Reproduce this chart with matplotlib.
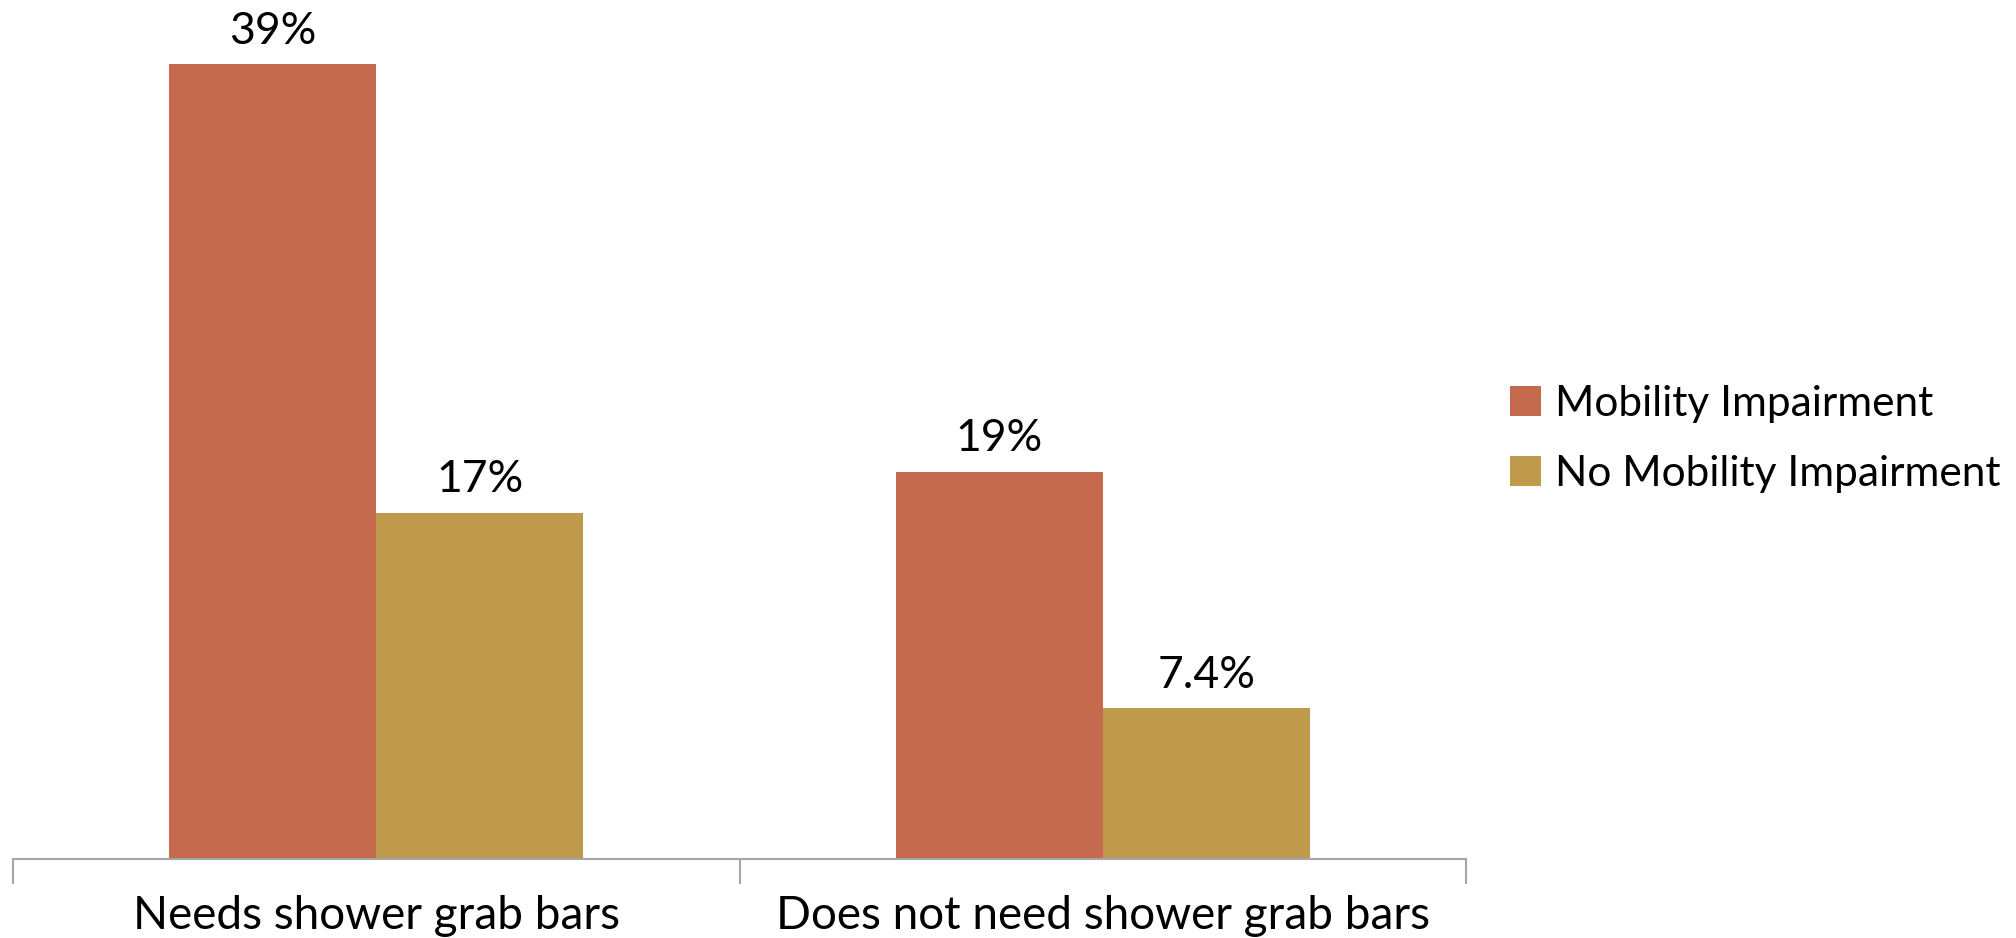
import matplotlib
matplotlib.use("Agg")
import matplotlib.pyplot as plt
import numpy as np

categories = ["Needs shower grab bars", "Does not need shower grab bars"]
series_names = ["Mobility Impairment", "No Mobility Impairment"]
mobility = [39, 19]
no_mobility = [17, 7.4]
value_labels = [["39%", "19%"], ["17%", "7.4%"]]
colors = ["#C5694F", "#BF994C"]

plt.rcParams["font.family"] = ["Lato", "DejaVu Sans"]

fig = plt.figure(figsize=(20.16, 9.38), dpi=100)
ax = fig.add_axes([13 / 2016, 79 / 938, (1466 - 13) / 2016, (859 - 44) / 938])

x = np.arange(len(categories))
w = 0.285
series = [mobility, no_mobility]
offsets = [-w / 2, w / 2]
handles = []
for s, (vals, off, col, labs) in enumerate(zip(series, offsets, colors, value_labels)):
    bars = ax.bar(x + off, vals, width=w, color=col, label=series_names[s], zorder=2)
    handles.append(bars)
    for b, lab in zip(bars, labs):
        ax.annotate(lab, (b.get_x() + b.get_width() / 2, b.get_height()),
                    xytext=(0, 9), textcoords="offset points",
                    ha="center", va="bottom", fontsize=32, color="black")

ax.set_xlim(-0.5, 1.5)
ax.set_ylim(0, 40)
for sp in ["top", "right", "left"]:
    ax.spines[sp].set_visible(False)
ax.spines["bottom"].set_color("#A6A6A6")
ax.spines["bottom"].set_linewidth(1.5)
ax.set_yticks([])
ax.set_xticks([-0.5, 0.5, 1.5], minor=False)
ax.set_xticklabels([])
ax.tick_params(axis="x", which="major", length=18, width=1.5, color="#A6A6A6")
ax.set_xticks(x, minor=True)
ax.set_xticklabels(categories, minor=True, fontsize=33)
ax.tick_params(axis="x", which="minor", length=0, pad=26)

fig.legend(handles=handles, labels=series_names, loc="center left",
           bbox_to_anchor=(1472 / 2016, 1 - 439 / 938), frameon=False,
           fontsize=30.5, handlelength=0.72, handleheight=0.72,
           handletextpad=0.35, labelspacing=0.75)

fig.savefig("out.png", dpi=100, facecolor="white")
